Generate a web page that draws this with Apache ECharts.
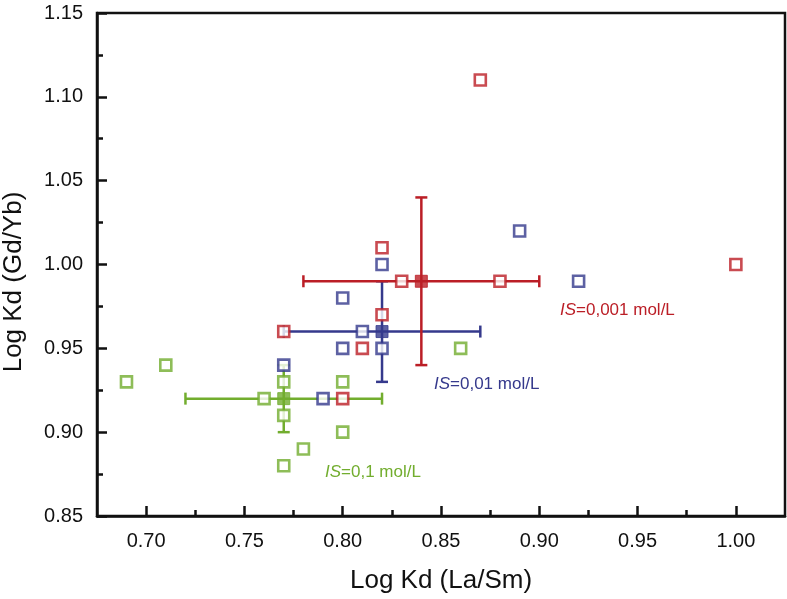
<!DOCTYPE html>
<html>
<head>
<meta charset="utf-8">
<script src="https://cdn.jsdelivr.net/npm/echarts@6/dist/echarts.min.js"></script>
<style>html,body{margin:0;padding:0;background:#fff}#c{width:787px;height:599px}</style>
</head>
<body>
<div id="c"></div>
<script>
// IS = 0,001 mol/L (red)
const redPoints = [[0.87,1.11],[1.00,1.00],[0.82,1.01],[0.83,0.99],[0.88,0.99],[0.82,0.97],[0.81,0.95],[0.77,0.96],[0.80,0.92]];
const redMean = [0.84, 0.99];
const redErrX = [0.78, 0.90];
const redErrY = [0.94, 1.04];
// IS = 0,01 mol/L (blue)
const bluePoints = [[0.82,1.00],[0.89,1.02],[0.92,0.99],[0.80,0.98],[0.81,0.96],[0.80,0.95],[0.82,0.95],[0.77,0.94],[0.79,0.92]];
const blueMean = [0.82, 0.96];
const blueErrX = [0.77, 0.87];
const blueErrY = [0.93, 0.99];
// IS = 0,1 mol/L (green)
const greenPoints = [[0.69,0.93],[0.71,0.94],[0.76,0.92],[0.77,0.93],[0.77,0.91],[0.77,0.88],[0.78,0.89],[0.80,0.93],[0.80,0.90],[0.86,0.95]];
const greenMean = [0.77, 0.92];
const greenErrX = [0.72, 0.82];
const greenErrY = [0.90, 0.94];

const xTicks = [0.70,0.75,0.80,0.85,0.90,0.95,1.00];
const xMinorTicks = [0.725,0.775,0.825,0.875,0.925,0.975];
const yTicks = [0.85,0.90,0.95,1.00,1.05,1.10,1.15];

const RED = '#bb1e26', BLUE = '#35398c', GREEN = '#72ad2e';
const FONT = 'Liberation Sans, Arial, sans-serif';

function errSeries(mean, ex, ey, color) {
  return {
    type: 'custom',
    z: 2,
    data: [[mean[0], mean[1], ex[0], ex[1], ey[0], ey[1]]],
    renderItem: function (params, api) {
      const l = api.coord([api.value(2), api.value(1)]);
      const r = api.coord([api.value(3), api.value(1)]);
      const b = api.coord([api.value(0), api.value(4)]);
      const t = api.coord([api.value(0), api.value(5)]);
      const cap = 6;
      const st = {stroke: color, lineWidth: 2.5, fill: null};
      return {type: 'group', children: [
        {type: 'line', shape: {x1: l[0], y1: l[1], x2: r[0], y2: r[1]}, style: st},
        {type: 'line', shape: {x1: l[0], y1: l[1]-cap, x2: l[0], y2: l[1]+cap}, style: st},
        {type: 'line', shape: {x1: r[0], y1: r[1]-cap, x2: r[0], y2: r[1]+cap}, style: st},
        {type: 'line', shape: {x1: b[0], y1: b[1], x2: t[0], y2: t[1]}, style: st},
        {type: 'line', shape: {x1: b[0]-cap, y1: b[1], x2: b[0]+cap, y2: b[1]}, style: st},
        {type: 'line', shape: {x1: t[0]-cap, y1: t[1], x2: t[0]+cap, y2: t[1]}, style: st}
      ]};
    }
  };
}
function openSeries(data, color) {
  return {type: 'scatter', z: 3, data: data, symbol: 'rect', symbolSize: 11,
    itemStyle: {color: '#fff', borderColor: color, borderWidth: 2.6}};
}
function meanSeries(pt, color) {
  return {type: 'scatter', z: 4, data: [pt], symbol: 'rect', symbolSize: 12,
    itemStyle: {color: color, borderColor: color, borderWidth: 1}};
}

const chart = echarts.init(document.getElementById('c'), null, {renderer: 'canvas'});
const lineStyle = {color: '#111', width: 2.5};
chart.setOption({
  animation: false,
  grid: {left: 97, right: 2, top: 13, bottom: 81, show: true, borderColor: '#111', borderWidth: 2.5},
  xAxis: [{
    type: 'value', min: 0.675, max: 1.025, interval: 0.05,
    name: 'Log Kd (La/Sm)', nameLocation: 'middle', nameGap: 52,
    nameTextStyle: {fontFamily: FONT, fontSize: 26, color: '#111'},
    axisLine: {show: true, onZero: false, lineStyle: lineStyle},
    axisTick: {show: true, inside: true, length: 10, lineStyle: lineStyle, customValues: xTicks},
    axisLabel: {fontFamily: FONT, fontSize: 20, color: '#111', margin: 15,
      customValues: xTicks, formatter: v => v.toFixed(2)},
    splitLine: {show: false}
  }, {
    type: 'value', position: 'bottom', min: 0.675, max: 1.025, interval: 0.05,
    axisLine: {show: false, onZero: false},
    axisTick: {show: true, inside: true, length: 6, lineStyle: lineStyle, customValues: xMinorTicks},
    axisLabel: {show: false},
    splitLine: {show: false}
  }],
  yAxis: {
    type: 'value', min: 0.85, max: 1.15, interval: 0.05,
    axisLine: {show: true, onZero: false, lineStyle: lineStyle},
    axisTick: {show: true, inside: true, length: 10, lineStyle: lineStyle},
    minorTick: {show: true, splitNumber: 2, length: 6, lineStyle: lineStyle},
    axisLabel: {fontFamily: FONT, fontSize: 20, color: '#111', margin: 14,
      formatter: v => v.toFixed(2)},
    splitLine: {show: false}
  },
  graphic: [
    {type: 'text', x: 14, y: 282, rotation: Math.PI / 2,
      style: {text: 'Log Kd (Gd/Yb)', fill: '#111', font: '26px ' + FONT, align: 'center', verticalAlign: 'middle'}},
    {type: 'text', left: 560, top: 302, style: {text: '{i|IS}=0,001 mol/L', fill: RED, font: '17px ' + FONT,
      rich: {i: {fontStyle: 'italic', fontFamily: FONT, fontSize: 17, fill: RED}}}},
    {type: 'text', left: 434, top: 376, style: {text: '{i|IS}=0,01 mol/L', fill: BLUE, font: '17px ' + FONT,
      rich: {i: {fontStyle: 'italic', fontFamily: FONT, fontSize: 17, fill: BLUE}}}},
    {type: 'text', left: 325, top: 464, style: {text: '{i|IS}=0,1 mol/L', fill: GREEN, font: '17px ' + FONT,
      rich: {i: {fontStyle: 'italic', fontFamily: FONT, fontSize: 17, fill: GREEN}}}}
  ],
  series: [
    errSeries(greenMean, greenErrX, greenErrY, GREEN),
    errSeries(blueMean, blueErrX, blueErrY, BLUE),
    errSeries(redMean, redErrX, redErrY, RED),
    openSeries(greenPoints, GREEN),
    openSeries(bluePoints, BLUE),
    openSeries(redPoints, RED),
    meanSeries(greenMean, GREEN),
    meanSeries(blueMean, BLUE),
    meanSeries(redMean, RED)
  ]
});
</script>
</body>
</html>
